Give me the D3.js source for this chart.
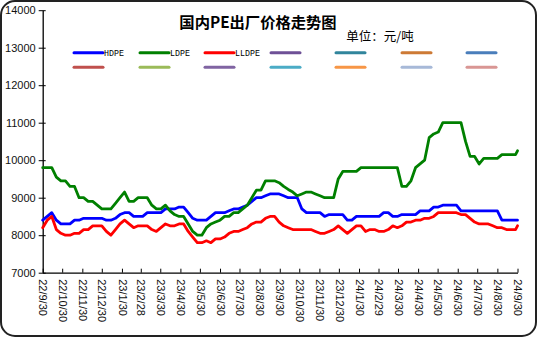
<!DOCTYPE html>
<html><head><meta charset="utf-8">
<script src="https://cdn.jsdelivr.net/npm/d3@7"></script>
<style>body{margin:0;background:#fff}svg{display:block}</style>
</head><body>
<svg id="c" width="538" height="338"></svg>
<script>
// ---- data ----
const startDate = new Date(2022, 8, 30);
const weeks = 105;
const dates = d3.range(weeks).map(i => d3.timeDay.offset(startDate, 7 * i)).concat([new Date(2024, 8, 30)]);
const tickLabels = ["22/9/30","22/10/30","22/11/30","22/12/30","23/1/30","23/2/28","23/3/30","23/4/30","23/5/30","23/6/30","23/7/30","23/8/30","23/9/30","23/10/30","23/11/30","23/12/30","24/1/30","24/2/29","24/3/30","24/4/30","24/5/30","24/6/30","24/7/30","24/8/30","24/9/30"];
const yTicks = [7000,8000,9000,10000,11000,12000,13000,14000];
const seriesNames = ["HDPE","LDPE","LLDPE"];
const hdpe = [8400,8500,8600,8400,8300,8300,8300,8400,8400,8450,8450,8450,8450,8450,8400,8400,8450,8550,8600,8600,
  8500,8500,8500,8600,8600,8600,8600,8700,8700,8700,8750,8750,8600,8450,8400,8400,8400,8500,8600,8600,
  8600,8650,8700,8700,8750,8800,8900,9000,9000,9050,9100,9100,9100,9050,9000,9000,9000,8700,8600,8600,
  8600,8600,8500,8550,8550,8550,8550,8400,8400,8500,8500,8500,8500,8500,8500,8600,8600,8500,8500,8550,
  8550,8550,8550,8650,8650,8650,8750,8750,8800,8800,8800,8800,8650,8650,8650,8650,8650,8650,8650,8650,
  8650,8400,8400,8400,8400,8400];
const ldpe = [9800,9800,9800,9550,9450,9450,9300,9300,9000,9000,8900,8900,8800,8700,8700,8700,8850,9000,9150,8900,
  8900,9000,9000,9000,8800,8700,8700,8800,8650,8550,8500,8500,8300,8100,8000,8000,8200,8300,8350,8400,
  8500,8500,8600,8600,8700,8800,9000,9200,9200,9450,9450,9450,9400,9300,9220,9150,9050,9100,9150,9150,
  9100,9050,9000,9000,9000,9500,9700,9700,9700,9700,9800,9800,9800,9800,9800,9800,9800,9800,9800,9300,
  9300,9450,9800,9900,10000,10600,10700,10750,11000,11000,11000,11000,11000,10500,10100,10100,9900,10050,10050,10050,
  10050,10150,10150,10150,10150,10250];
const lldpe = [8200,8400,8500,8150,8050,8000,8000,8050,8050,8150,8150,8250,8250,8250,8100,8000,8150,8300,8400,8300,
  8200,8250,8250,8250,8150,8100,8200,8300,8250,8250,8300,8300,8100,7950,7800,7800,7850,7800,7900,7900,
  7950,8050,8100,8100,8150,8200,8300,8350,8350,8450,8500,8500,8350,8250,8200,8150,8150,8150,8150,8150,
  8100,8050,8050,8100,8150,8250,8150,8050,8150,8250,8250,8100,8150,8150,8100,8100,8150,8250,8200,8250,
  8350,8350,8400,8400,8450,8450,8500,8600,8600,8600,8600,8600,8550,8550,8450,8350,8300,8300,8300,8250,
  8200,8200,8150,8150,8150,8250];
const seriesColors = ["#0000FF","#008000","#FF0000"];
const extraLegendColors = [["#6E5096","#31859C","#CD7A35","#4A7EBB"],["#C0504D","#9BBB59","#8064A2","#4BACC6","#F79646","#A7B9D8","#D99694"]];

// ---- drawing ----
const svg = d3.select("#c");
svg.append("rect").attr("x",1).attr("y",1).attr("width",535).attr("height",335)
  .attr("rx",14).attr("fill","#fff").attr("stroke","#222").attr("stroke-width",2);

const parse = d3.timeParse("%y/%m/%d");
const tickDates = tickLabels.map(parse);
const x = d3.scaleTime().domain([startDate, new Date(2024, 8, 30)]).range([42.7, 517.5]);
const y = d3.scaleLinear().domain([7000, 14000]).range([272.7, 10.2]);

// y axis
const yAxis = svg.append("g").attr("transform","translate(42.7,0)")
  .call(d3.axisLeft(y).tickValues(yTicks).tickFormat(d3.format("d")).tickSizeInner(4).tickSizeOuter(0).tickPadding(4));
yAxis.select(".domain").attr("stroke","#000").attr("stroke-width",1.3);
yAxis.selectAll(".tick line").attr("stroke","#000").attr("x2",-4).attr("x1",3);
yAxis.selectAll(".tick text").attr("font-family","Liberation Sans, Arial, sans-serif").attr("font-size",11).attr("fill","#111").attr("x",-7);

// x axis
const xAxis = svg.append("g").attr("transform","translate(0,272.7)")
  .call(d3.axisBottom(x).tickValues(tickDates).tickFormat((d,i)=>tickLabels[i]).tickSizeInner(-4).tickSizeOuter(0));
xAxis.select(".domain").attr("stroke","#000").attr("stroke-width",1.3);
xAxis.selectAll(".tick line").attr("stroke","#000");
xAxis.selectAll(".tick text").attr("font-family","Liberation Sans, Arial, sans-serif").attr("font-size",11).attr("fill","#111")
  .attr("transform","rotate(90)").attr("x",6.5).attr("y",0).attr("dy","0.35em").attr("text-anchor","start");

// lines
const seriesData = [hdpe, ldpe, lldpe];
const line = d3.line().x((d,i)=>x(dates[i])).y(d=>y(d));
seriesData.forEach((s,k)=>{
  svg.append("path").datum(s).attr("d",line).attr("fill","none")
    .attr("stroke",seriesColors[k]).attr("stroke-width",2.8).attr("stroke-linejoin","round").attr("stroke-linecap","round");
});

// title
svg.append("text").attr("x",258).attr("y",28).attr("text-anchor","middle")
  .attr("font-family","Noto Sans CJK SC, sans-serif").attr("font-weight","bold").attr("font-size",15.3).attr("fill","#000")
  .text("国内PE出厂价格走势图");
svg.append("text").attr("x",380).attr("y",40.5).attr("text-anchor","middle")
  .attr("font-family","Noto Sans CJK SC, sans-serif").attr("font-size",12.5).attr("fill","#000")
  .text("单位：元/吨");

// legend
const colX = [74,140,205,271,336,402,467];
const row1 = seriesColors.concat(extraLegendColors[0]);
const rows = [row1, extraLegendColors[1]];
const rowY = [52.7, 67.3];
rows.forEach((r,ri)=>{
  r.forEach((c,ci)=>{
    svg.append("line").attr("x1",colX[ci]).attr("x2",colX[ci]+29).attr("y1",rowY[ri]).attr("y2",rowY[ri])
      .attr("stroke",c).attr("stroke-width",3).attr("stroke-linecap","round");
  });
});
seriesNames.forEach((n,i)=>{
  svg.append("text").attr("x",colX[i]+30).attr("y",rowY[0]+3).attr("font-family","Liberation Mono, monospace")
    .attr("font-size",8.3).attr("fill","#000").text(n);
});
</script>
</body></html>
